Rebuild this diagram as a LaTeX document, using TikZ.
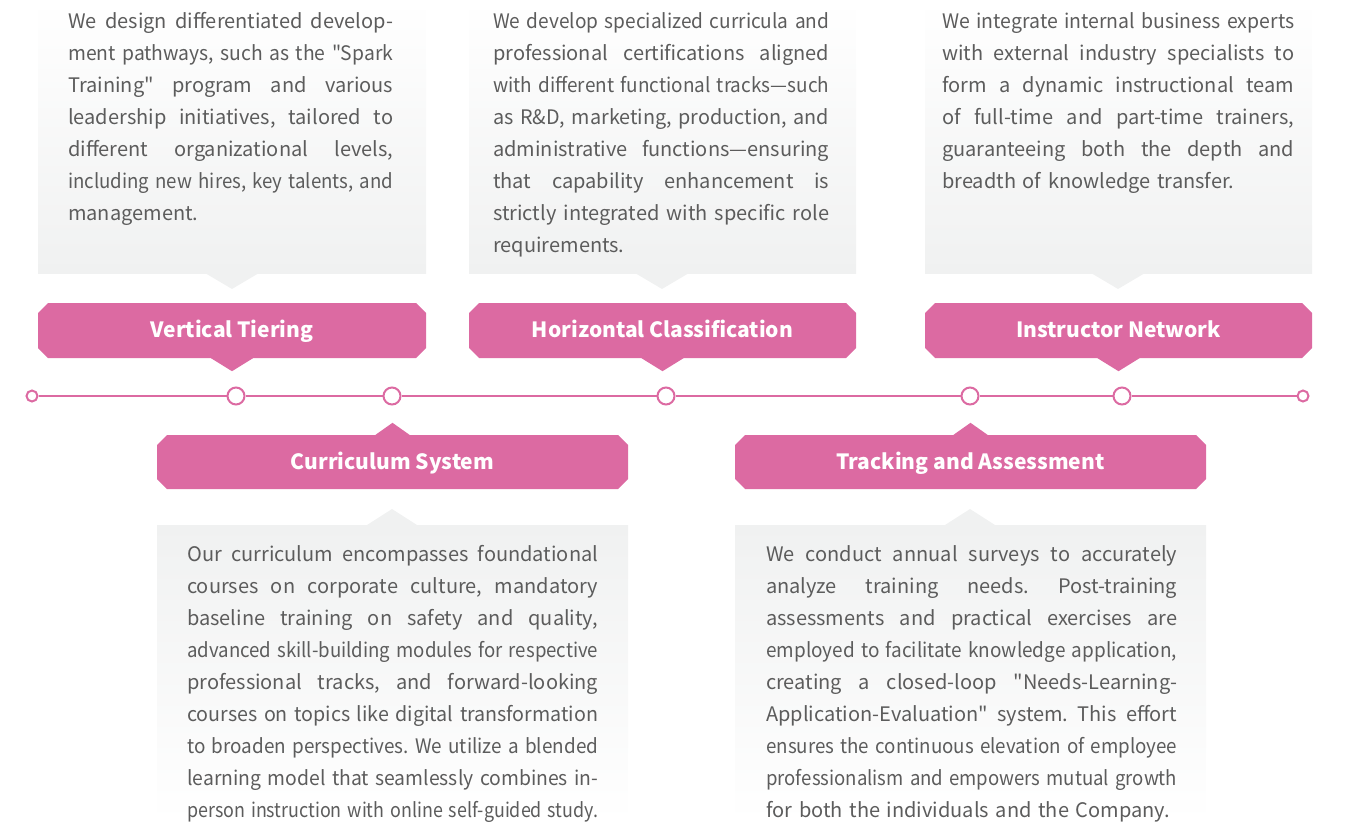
\documentclass[tikz,border=0pt]{standalone}
\usepackage{fontspec}
\usepackage{graphicx}
\setmainfont{Noto Sans CJK SC}[Ligatures=TeXOff]
\usetikzlibrary{shapes.misc}
\definecolor{tagpink}{RGB}{220,106,162}
\definecolor{boxgray}{RGB}{240,241,241}
\definecolor{bodygray}{RGB}{92,92,92}
% one justified line of a text panel (squeezed a little if too long)
\newcommand\jl[1]{\setbox0\hbox{#1}%
  \ifdim\wd0>\linewidth\hbox{\resizebox{\linewidth}{\height}{\box0}}%
  \else\hbox to\linewidth{\spaceskip=4.4pt plus 30pt\relax#1}\fi\par}
% last line of a text panel, not stretched
\newcommand\lastl[1]{\setbox0\hbox{#1}%
  \ifdim\wd0>\linewidth\hbox{\resizebox{\linewidth}{\height}{\box0}}%
  \else\box0\fi\par}
\newcommand\blurbfont{\fontsize{20}{32}\selectfont\frenchspacing}

\begin{document}
\begin{tikzpicture}[x=1pt,y=-1pt,
  tag/.style={chamfered rectangle,chamfered rectangle xsep=5pt,chamfered rectangle ysep=5pt,
    fill=tagpink,text=white,inner sep=0pt,text height=17.5pt,text depth=3.5pt,
    font=\fontsize{21}{24}\selectfont\bfseries},
  blurb/.style={anchor=base west,inner sep=0pt,align=left,text=bodygray,font=\blurbfont},
  dot/.style={circle,draw=tagpink,fill=white,line width=2pt,inner sep=0pt,minimum size=11pt},
  bigdot/.style={dot,minimum size=17pt}]
  \useasboundingbox (0,0) rectangle (1354,822);
  % text panels
  \shade[top color=white,bottom color=boxgray] (38,0) rectangle (426,273);
  \shade[top color=white,bottom color=boxgray] (469,0) rectangle (856,273);
  \shade[top color=white,bottom color=boxgray] (925,0) rectangle (1312,273);
  \fill[boxgray] (205,273) -- (232,289) -- (259,273) -- cycle;
  \fill[boxgray] (635,273) -- (662,289) -- (689,273) -- cycle;
  \fill[boxgray] (1091,273) -- (1118,289) -- (1145,273) -- cycle;
  \shade[top color=boxgray,bottom color=white] (157,525) rectangle (628,822);
  \shade[top color=boxgray,bottom color=white] (735,525) rectangle (1206,822);
  \fill[boxgray] (367,525) -- (392,509) -- (417,525) -- cycle;
  \fill[boxgray] (945,525) -- (970,509) -- (995,525) -- cycle;
  % timeline
  \foreach \n/\x/\s in {t0/32/dot,t1/236/bigdot,t2/392/bigdot,t3/666/bigdot,
                        t4/970/bigdot,t5/1122/bigdot,t6/1303/dot}
    \node[\s] (\n) at (\x,396) {};
  \draw[tagpink,line width=2pt] (t0) -- (t1) -- (t2) -- (t3) -- (t4) -- (t5) -- (t6);
  % labels
  \node[tag,minimum width=388pt,minimum height=55pt] (vt) at (232,330.5) {Vertical Tiering};
  \node[tag,minimum width=387pt,minimum height=55pt] (hc) at (662.5,330.5) {Horizontal Classification};
  \node[tag,minimum width=387pt,minimum height=55pt] (in) at (1118.5,330.5) {Instructor Network};
  \node[tag,minimum width=471pt,minimum height=54pt] (cs) at (392.5,462) {Curriculum System};
  \node[tag,minimum width=471pt,minimum height=54pt] (ta) at (970.5,462) {Tracking and Assessment};
  \foreach \t in {vt,hc,in}
    \fill[tagpink] ([xshift=-21pt]\t.south) -- ([yshift=-13pt]\t.south) -- ([xshift=21pt]\t.south) -- cycle;
  \foreach \t in {cs,ta}
    \fill[tagpink] ([xshift=-17pt]\t.north) -- ([yshift=12pt]\t.north) -- ([xshift=17pt]\t.north) -- cycle;
  % texts
  \node[blurb,text width=325pt] (vttext) at (68,28) {\jl{We design differentiated develop-}
    \jl{ment pathways, such as the "Spark}\jl{Training" program and various}
    \jl{leadership initiatives, tailored to}\jl{different organizational levels,}
    \jl{including new hires, key talents, and}\lastl{management.}};
  \node[blurb,text width=336pt] (hctext) at (493,28) {\jl{We develop specialized curricula and}
    \jl{professional certifications aligned}\jl{with different functional tracks—such}
    \jl{as R\&D, marketing, production, and}\jl{administrative functions—ensuring}
    \jl{that capability enhancement is}\jl{strictly integrated with specific role}
    \lastl{requirements.}};
  \node[blurb,text width=352pt] (intext) at (942,28) {\jl{We integrate internal business experts}
    \jl{with external industry specialists to}\jl{form a dynamic instructional team}
    \jl{of full-time and part-time trainers,}\jl{guaranteeing both the depth and}
    \lastl{breadth of knowledge transfer.}};
  \node[blurb,text width=411pt] (cstext) at (187,561) {\jl{Our curriculum encompasses foundational}
    \jl{courses on corporate culture, mandatory}\jl{baseline training on safety and quality,}
    \jl{advanced skill-building modules for respective}\jl{professional tracks, and forward-looking}
    \jl{courses on topics like digital transformation}\jl{to broaden perspectives. We utilize a blended}
    \jl{learning model that seamlessly combines in-}\lastl{person instruction with online self-guided study.}};
  \node[blurb,text width=411pt] (tatext) at (766,561) {\jl{We conduct annual surveys to accurately}
    \jl{analyze training needs. Post-training}\jl{assessments and practical exercises are}
    \jl{employed to facilitate knowledge application,}\jl{creating a closed-loop "Needs-Learning-}
    \jl{Application-Evaluation" system. This effort}\jl{ensures the continuous elevation of employee}
    \jl{professionalism and empowers mutual growth}\lastl{for both the individuals and the Company.}};
\end{tikzpicture}
\end{document}
